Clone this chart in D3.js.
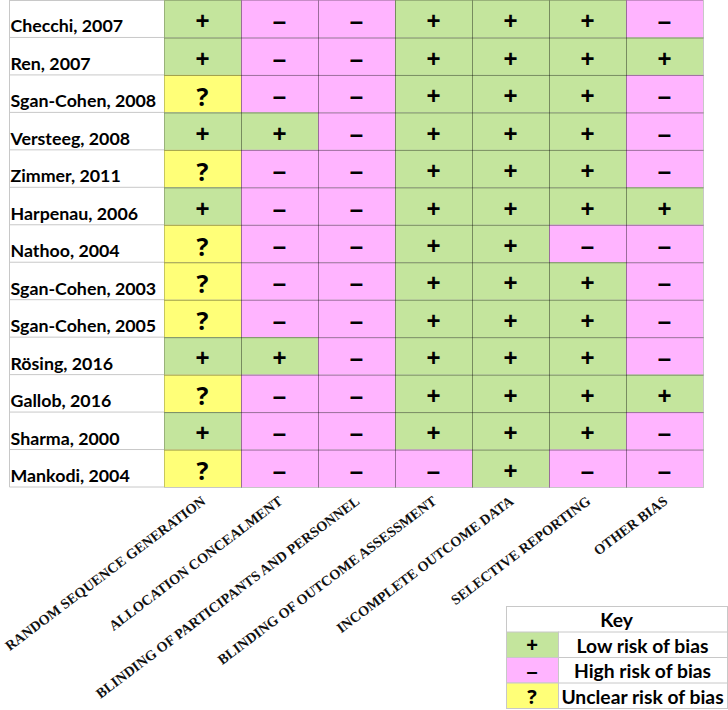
<!DOCTYPE html>
<html>
<head>
<meta charset="utf-8">
<script src="https://cdn.jsdelivr.net/npm/d3@7"></script>
<style>
  body { margin: 0; background: #fff; }
  .study { font-family: Lato, sans-serif; font-weight: bold; font-size: 17.8px; fill: #000; }
  .sym { font-weight: bold; fill: #000; }
  .domain-label { font-family: "Liberation Serif", serif; font-weight: bold; font-size: 14.2px; fill: #111; }
  .key { font-family: Lato, sans-serif; font-weight: bold; fill: #000; }
</style>
</head>
<body>
<div class="chart"></div>
<script>
var svgWidth = 728;
var svgHeight = 710;

// studies (rows), top to bottom
var studies = [
  "Checchi, 2007", "Ren, 2007", "Sgan-Cohen, 2008", "Versteeg, 2008",
  "Zimmer, 2011", "Harpenau, 2006", "Nathoo, 2004", "Sgan-Cohen, 2003",
  "Sgan-Cohen, 2005", "Rösing, 2016", "Gallob, 2016", "Sharma, 2000",
  "Mankodi, 2004"
];

// risk of bias domains (columns)
var domains = [
  "RANDOM SEQUENCE GENERATION", "ALLOCATION CONCEALMENT",
  "BLINDING OF PARTICIPANTS AND PERSONNEL", "BLINDING OF OUTCOME ASSESSMENT",
  "INCOMPLETE OUTCOME DATA", "SELECTIVE REPORTING", "OTHER BIAS"
];

// one string per study, one character per domain: + low, - high, ? unclear
var judgements = [
  "+--+++-",
  "+--++++",
  "?--+++-",
  "++-+++-",
  "?--+++-",
  "+--++++",
  "?--++--",
  "?--+++-",
  "?--+++-",
  "++-+++-",
  "?--++++",
  "+--+++-",
  "?---+--"
];

var keyCodes = ["+", "-", "?"];
var keyLabels = ["Low risk of bias", "High risk of bias", "Unclear risk of bias"];

var fill = d3.scaleOrdinal()
  .domain(keyCodes)
  .range(["#c4e59d", "#ffb4ff", "#ffff78"]);

var glyph = d3.scaleOrdinal()
  .domain(keyCodes)
  .range(["+", "\u2013", "?"]);

var glyphFont = d3.scaleOrdinal()
  .domain(keyCodes)
  .range(["Liberation Sans", "Liberation Sans", "Open Sans"]);

var svg = d3.select(".chart")
  .append("svg")
  .attr("width", svgWidth)
  .attr("height", svgHeight);

var x = d3.scaleBand()
  .domain(domains)
  .range([164, 703]);

var y = d3.scaleBand()
  .domain(studies)
  .range([0, 487]);

// flatten to cells
var cells = [];
studies.forEach(function(s, i) {
  judgements[i].split("").forEach(function(code, j) {
    cells.push({ study: s, domain: domains[j], code: code });
  });
});

// label column
var labelX0 = 9.5;
var labels = svg.append("g");
labels.selectAll("line.row")
  .data(studies)
  .enter()
  .append("line")
  .attr("x1", labelX0)
  .attr("x2", x.range()[0])
  .attr("y1", d => y(d) + y.bandwidth())
  .attr("y2", d => y(d) + y.bandwidth())
  .attr("stroke", "#c8c8c8");
labels.append("line")
  .attr("x1", labelX0).attr("x2", x.range()[0])
  .attr("y1", 0.5).attr("y2", 0.5)
  .attr("stroke", "#c8c8c8");
labels.append("line")
  .attr("x1", labelX0).attr("x2", labelX0)
  .attr("y1", 0).attr("y2", y.range()[1])
  .attr("stroke", "#c8c8c8");
labels.selectAll("text")
  .data(studies)
  .enter()
  .append("text")
  .attr("class", "study")
  .attr("x", 10.5)
  .attr("y", d => y(d) + y.bandwidth() - 5)
  .text(d => d);

// cells
var grid = svg.append("g");
grid.selectAll("rect")
  .data(cells)
  .enter()
  .append("rect")
  .attr("x", d => x(d.domain))
  .attr("y", d => y(d.study))
  .attr("width", x.bandwidth())
  .attr("height", y.bandwidth())
  .attr("fill", d => fill(d.code));

grid.selectAll("rect.edge")
  .data(cells)
  .enter()
  .append("rect")
  .attr("x", d => x(d.domain) + 0.5)
  .attr("y", d => y(d.study) + 0.5)
  .attr("width", x.bandwidth())
  .attr("height", y.bandwidth())
  .attr("fill", "none")
  .attr("stroke", "#000")
  .attr("stroke-opacity", 0.22);

grid.selectAll("text")
  .data(cells)
  .enter()
  .append("text")
  .attr("class", "sym")
  .attr("font-family", d => glyphFont(d.code))
  .attr("text-anchor", "middle")
  .attr("dominant-baseline", "central")
  .attr("x", d => x(d.domain) + x.bandwidth() / 2)
  .attr("y", d => y(d.study) + y.bandwidth() / 2 + 2)
  .attr("font-size", d => d.code === "?" ? 25 : 24)
  .text(d => glyph(d.code));

// rotated domain labels
svg.append("g")
  .selectAll("text")
  .data(domains)
  .enter()
  .append("text")
  .attr("class", "domain-label")
  .attr("text-anchor", "end")
  .attr("transform", d => `translate(${x(d) + x.bandwidth() / 2 + 4}, 503) rotate(-37)`)
  .text(d => d);

// key
var keyX = 506, keyY = 606, keyW = 221, rowH = 25.5, swatchW = 52;
var key = svg.append("g");
key.append("rect")
  .attr("x", keyX + 0.5).attr("y", keyY + 0.5)
  .attr("width", keyW).attr("height", rowH * 4)
  .attr("fill", "#fff")
  .attr("stroke", "#c8c8c8");
key.append("text")
  .attr("class", "key")
  .attr("x", keyX + keyW / 2)
  .attr("y", keyY + rowH / 2 + 1)
  .attr("text-anchor", "middle")
  .attr("dominant-baseline", "central")
  .attr("font-size", 19.3)
  .text("Key");

var keyRows = key.selectAll("g.row")
  .data(keyCodes)
  .enter()
  .append("g")
  .attr("transform", (d, i) => `translate(${keyX}, ${keyY + rowH * (i + 1)})`);
keyRows.append("rect")
  .attr("x", 0.5).attr("y", 0.5)
  .attr("width", swatchW).attr("height", rowH)
  .attr("fill", d => fill(d))
  .attr("stroke", "#c8c8c8");
keyRows.append("line")
  .attr("x1", swatchW).attr("x2", keyW)
  .attr("y1", 0.5).attr("y2", 0.5)
  .attr("stroke", "#c8c8c8");
keyRows.append("text")
  .attr("class", "sym")
  .attr("font-family", d => glyphFont(d))
  .attr("x", swatchW / 2)
  .attr("y", rowH / 2 + 1)
  .attr("text-anchor", "middle")
  .attr("dominant-baseline", "central")
  .attr("font-size", 20)
  .text(d => glyph(d));
keyRows.append("text")
  .attr("class", "key")
  .attr("x", swatchW + (keyW - swatchW) / 2)
  .attr("y", rowH / 2 + 1)
  .attr("text-anchor", "middle")
  .attr("dominant-baseline", "central")
  .attr("font-size", 19.3)
  .text((d, i) => keyLabels[i]);
</script>
</body>
</html>
